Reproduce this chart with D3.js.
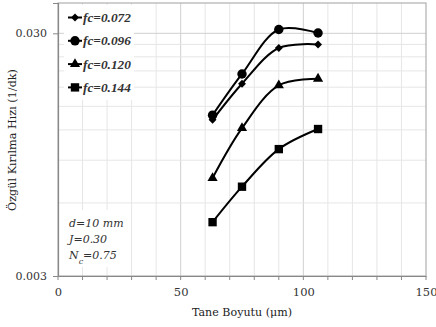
<!DOCTYPE html>
<html><head><meta charset="utf-8">
<script src="https://cdn.jsdelivr.net/npm/d3@7"></script>
<style>
body{margin:0;background:#fff;}
svg{display:block;}
</style></head>
<body>
<svg id="chart" width="436" height="327"></svg>
<script>
const grainSize = [63, 75, 90, 106];
const seriesNames = ["fc=0.072", "fc=0.096", "fc=0.120", "fc=0.144"];
const fc072 = [0.0132, 0.0186, 0.0261, 0.0270];
const fc096 = [0.0138, 0.0204, 0.0311, 0.0301];
const fc120 = [0.0076, 0.0122, 0.0183, 0.0195];
const fc144 = [0.0050, 0.0070, 0.0100, 0.0121];
const xTicks = [0, 50, 100, 150];
const yTicks = [0.003, 0.03];
const yTickLabels = ["0.003", "0.030"];
const annotation = ["d=10 mm", "J=0.30", "N_c=0.75"];

const series = [
  {name: seriesNames[0], values: fc072, symbol: d3.symbolDiamond2, size: 40},
  {name: seriesNames[1], values: fc096, symbol: d3.symbolCircle, size: 70},
  {name: seriesNames[2], values: fc120, symbol: d3.symbolTriangle, size: 45},
  {name: seriesNames[3], values: fc144, symbol: d3.symbolSquare, size: 70}
];

const W = 436, H = 327;
const m = {left: 58, right: 10, top: 3, bottom: 51};
const svg = d3.select("#chart");
const x = d3.scaleLinear().domain([0, 150]).range([m.left, W - m.right]);
const y = d3.scaleLog().domain([0.003, 0.04]).range([H - m.bottom, m.top]);
const serif = "'DejaVu Serif', serif";
const serif2 = "'Liberation Serif', serif";

function fitWidth(sel, target) {
  const w = sel.node().getComputedTextLength();
  const fs = parseFloat(sel.attr("font-size"));
  if (w > 0) sel.attr("font-size", (fs * target / w).toFixed(2));
}

// gridlines
const g = svg.append("g");
const xGrid = d3.range(10, 150, 10);
g.selectAll(".vg").data(xGrid).join("line")
  .attr("x1", d => x(d)).attr("x2", d => x(d))
  .attr("y1", y(0.003)).attr("y2", y(0.04))
  .attr("stroke", d => d % 50 === 0 ? "#d0d0d0" : "#e6e6e6").attr("stroke-width", 1);
const yGrid = d3.range(2, 11).map(k => 0.003 * k);
g.selectAll(".hg").data(yGrid).join("line")
  .attr("x1", x(0)).attr("x2", x(150))
  .attr("y1", d => y(d)).attr("y2", d => y(d))
  .attr("stroke", (d, i) => i === yGrid.length - 1 ? "#d0d0d0" : "#e6e6e6").attr("stroke-width", 1);

// frame
svg.append("rect").attr("x", x(0)).attr("y", y(0.04))
  .attr("width", x(150) - x(0)).attr("height", y(0.003) - y(0.04))
  .attr("fill", "none").attr("stroke", "#b0b0b0").attr("stroke-width", 1.2);

// axes
const xAxis = d3.axisBottom(x).tickValues(xTicks).tickSize(0).tickPadding(12).tickFormat(d3.format("d"));
const xa = svg.append("g").attr("transform", `translate(0,${y(0.003)})`).call(xAxis);
xa.select(".domain").attr("stroke", "#888").attr("stroke-width", 1.2);
xa.selectAll("text").attr("font-family", serif).attr("font-size", 11.5).attr("fill", "#333");
svg.append("g").selectAll("line").data(d3.range(0, 151, 10)).join("line")
  .attr("x1", d => x(d)).attr("x2", d => x(d))
  .attr("y1", y(0.003)).attr("y2", y(0.003) + 4)
  .attr("stroke", "#888").attr("stroke-width", 1);

const yAxis = d3.axisLeft(y).tickValues(yTicks).tickSize(5).tickPadding(6)
  .tickFormat((d, i) => yTickLabels[i]);
const ya = svg.append("g").attr("transform", `translate(${x(0)},0)`).call(yAxis);
ya.select(".domain").attr("stroke", "#888").attr("stroke-width", 1.2);
ya.selectAll(".tick line").attr("stroke", "#888");
ya.selectAll("text").attr("font-family", serif).attr("font-size", 11).attr("fill", "#333");

// axis titles
const xt = svg.append("text").attr("x", 242).attr("y", 316)
  .attr("text-anchor", "middle").attr("font-family", serif).attr("font-size", 11).attr("fill", "#222")
  .text("Tane Boyutu (μm)");
fitWidth(xt, 100);
const yt = svg.append("text").attr("transform", `translate(16,140) rotate(-90)`)
  .attr("text-anchor", "middle").attr("font-family", serif).attr("font-size", 11).attr("fill", "#222")
  .text("Özgül Kırılma Hızı (1/dk)");
fitWidth(yt, 142);

// lines and markers
const line = d3.line().x(d => x(d[0])).y(d => y(d[1])).curve(d3.curveCatmullRom.alpha(0.5));
series.forEach(s => {
  const pts = grainSize.map((gs, i) => [gs, s.values[i]]);
  svg.append("path").datum(pts).attr("d", line)
    .attr("fill", "none").attr("stroke", "#000").attr("stroke-width", 2);
  svg.append("g").selectAll("path").data(pts).join("path")
    .attr("transform", d => `translate(${x(d[0])},${y(d[1])})`)
    .attr("d", d3.symbol(s.symbol, s.size)).attr("fill", "#000");
});

// legend
const lg = svg.append("g");
lg.append("rect").attr("x", 64).attr("y", 5).attr("width", 70).attr("height", 95).attr("fill", "#fff");
series.forEach((s, i) => {
  const yy = 17.5 + i * 23.3;
  lg.append("line").attr("x1", 68).attr("x2", 82).attr("y1", yy).attr("y2", yy)
    .attr("stroke", "#000").attr("stroke-width", 2);
  lg.append("path").attr("transform", `translate(75,${yy})`)
    .attr("d", d3.symbol(s.symbol, s.size)).attr("fill", "#000");
  const t = lg.append("text").attr("x", 83).attr("y", yy + 4.5)
    .attr("font-family", serif2).attr("font-size", 13).attr("font-style", "italic").attr("font-weight", "bold")
    .attr("fill", "#333").text(s.name);
  fitWidth(t, 48);
});

// annotation
const an = svg.append("g");
an.append("rect").attr("x", 66).attr("y", 210).attr("width", 65).attr("height", 57).attr("fill", "#fff");
annotation.forEach((t, i) => {
  const tx = an.append("text").attr("x", 69).attr("y", 227 + i * 16)
    .attr("font-family", serif).attr("font-size", 11).attr("font-style", "italic").attr("fill", "#333");
  if (t.indexOf("_") >= 0) {
    const [a, rest] = t.split("_");
    tx.append("tspan").text(a);
    tx.append("tspan").attr("baseline-shift", "sub").attr("font-size", 8).text(rest[0]);
    tx.append("tspan").text(rest.slice(1));
  } else tx.text(t);
});
</script>
</body></html>
